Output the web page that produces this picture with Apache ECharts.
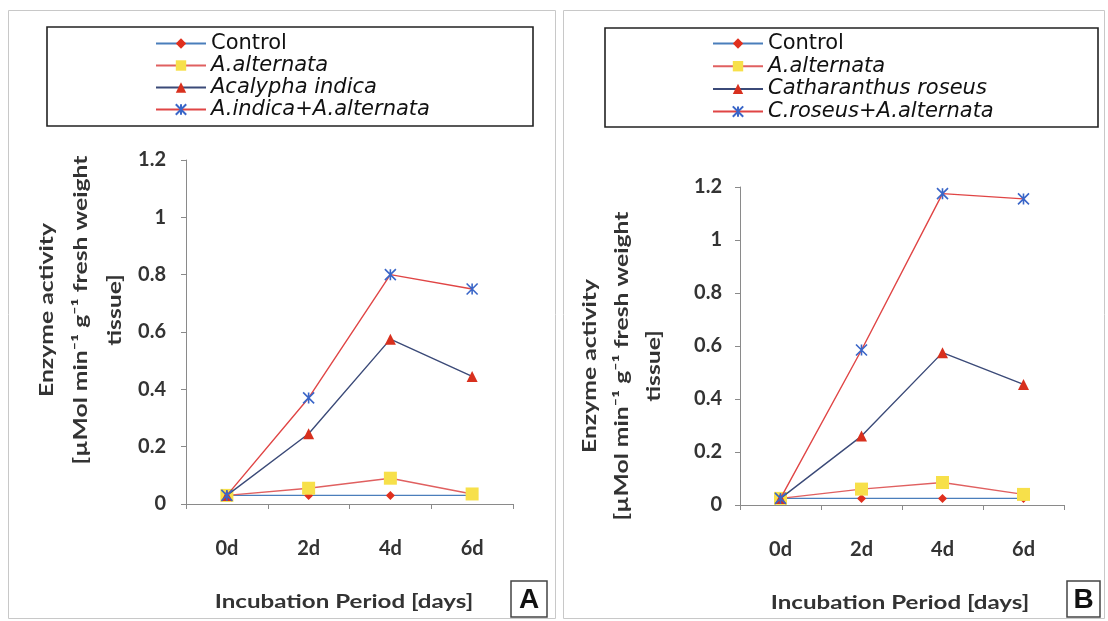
<!DOCTYPE html>
<html>
<head>
<meta charset="utf-8">
<script src="https://cdn.jsdelivr.net/npm/echarts@6/dist/echarts.min.js"></script>
<style>
  html, body { margin: 0; padding: 0; background: #fff; }
  #chart { width: 1108px; height: 621px; }
</style>
</head>
<body>
<div id="chart"></div>
<script>
// Incubation days on the category axis
const categories = ['0d', '2d', '4d', '6d'];

// Y axis range and step (enzyme activity)
const yMin = 0;
const yMax = 1.2;
const yStep = 0.2;

// Panel A: Acalypha indica
const namesA = ['Control', 'A.alternata', 'Acalypha indica', 'A.indica+A.alternata'];
const controlA = [0.03, 0.03, 0.03, 0.03];
const alternataA = [0.03, 0.055, 0.09, 0.035];
const indicaA = [0.03, 0.245, 0.575, 0.445];
const indicaAlternataA = [0.03, 0.37, 0.80, 0.75];

// Panel B: Catharanthus roseus
const namesB = ['Control', 'A.alternata', 'Catharanthus roseus', 'C.roseus+A.alternata'];
const controlB = [0.025, 0.025, 0.025, 0.025];
const alternataB = [0.025, 0.06, 0.085, 0.04];
const roseusB = [0.025, 0.26, 0.575, 0.455];
const roseusAlternataB = [0.025, 0.585, 1.175, 1.155];

const xTitle = 'Incubation Period [days]';
const yTitle = 'Enzyme activity\n[µMol min⁻¹ g⁻¹ fresh weight\ntissue]';

const tickFont = { fontFamily: 'Lato', fontWeight: 'bold', fontSize: 20, color: '#333' };
const asterisk = 'path://M0,0L10,10M10,0L0,10M5,0L5,10';

// Visual style of each of the four treatments (same in both panels)
const styles = [
  { line: '#4a7ebb', symbol: 'diamond', size: 9, fill: '#e0301e' },
  { line: '#e06060', symbol: 'rect', size: 13, fill: '#f7e04a' },
  { line: '#3b4a78', symbol: 'triangle', size: 11, fill: '#d8301e' },
  { line: '#e04545', symbol: asterisk, size: 11, fill: '#3a66c8', stroke: true }
];

function makeSeries(names, dataSets, axisIndex) {
  return dataSets.map((data, i) => {
    const s = styles[i];
    return {
      type: 'line',
      name: names[i],
      data: data,
      xAxisIndex: axisIndex,
      yAxisIndex: axisIndex,
      symbol: s.symbol,
      symbolSize: s.size,
      lineStyle: { color: s.line, width: 1.4 },
      itemStyle: s.stroke
        ? { color: 'rgba(0,0,0,0)', borderColor: s.fill, borderWidth: 1.6 }
        : { color: s.fill, borderWidth: 0 },
      emphasis: { disabled: true },
      z: 2 + i
    };
  });
}

function xAxisFor(gridIndex) {
  return {
    type: 'category',
    gridIndex: gridIndex,
    data: categories,
    boundaryGap: true,
    axisLine: { lineStyle: { color: '#8a8a8a', width: 1 } },
    axisTick: { show: true, length: 5, lineStyle: { color: '#8a8a8a' } },
    axisLabel: Object.assign({ margin: 35 }, tickFont)
  };
}

function yAxisFor(gridIndex, margin) {
  return {
    type: 'value',
    gridIndex: gridIndex,
    min: yMin,
    max: yMax,
    interval: yStep,
    splitLine: { show: false },
    axisLine: { show: true, lineStyle: { color: '#8a8a8a', width: 1 } },
    axisTick: { show: true, length: 5, lineStyle: { color: '#8a8a8a' } },
    axisLabel: Object.assign({
      margin: margin,
      formatter: v => String(+v.toFixed(1))
    }, tickFont)
  };
}

const legendText = {
  fontFamily: 'DejaVu Sans',
  fontSize: 21,
  color: '#111',
  lineHeight: 21,
  rich: {
    i: { fontFamily: 'DejaVu Sans', fontSize: 21, fontStyle: 'italic', color: '#111', lineHeight: 21 }
  }
};
const legendFormatter = name => name === 'Control' ? name : '{i|' + name + '}';

function legendFor(names, left, top, gap) {
  return {
    data: names,
    orient: 'vertical',
    left: left,
    top: top,
    itemWidth: 50,
    itemHeight: 13,
    itemGap: gap,
    padding: 0,
    selectedMode: false,
    textStyle: legendText,
    formatter: legendFormatter
  };
}

// Axis titles are drawn as text, widened along the baseline like the spaced-out original lettering
function titleText(text, x, y, rotated, widen, lineHeight) {
  return {
    type: 'text',
    x: x,
    y: y,
    rotation: rotated ? Math.PI / 2 : 0,
    scaleX: widen,
    style: {
      text: text,
      fontFamily: 'Lato',
      fontWeight: 'bold',
      fontSize: 19,
      lineHeight: lineHeight,
      fill: '#333',
      align: 'center',
      verticalAlign: 'middle'
    }
  };
}

function frame(x, y, w, h, color, lw) {
  return {
    type: 'rect',
    shape: { x: x, y: y, width: w, height: h },
    style: { fill: 'none', stroke: color, lineWidth: lw },
    silent: true
  };
}

function letterBox(x, y, w, h, letter) {
  return [
    frame(x, y, w, h, '#444', 1.5),
    {
      type: 'text',
      x: x + w / 2,
      y: y + h / 2 + 1,
      style: {
        text: letter,
        fontFamily: 'Liberation Sans',
        fontWeight: 'bold',
        fontSize: 28,
        fill: '#111',
        align: 'center',
        verticalAlign: 'middle'
      }
    }
  ];
}

const chart = echarts.init(document.getElementById('chart'), null, { renderer: 'canvas' });

chart.setOption({
  backgroundColor: '#ffffff',
  animation: false,
  grid: [
    { left: 186, top: 160, width: 327, height: 344 },
    { left: 740, top: 187, width: 324, height: 318 }
  ],
  xAxis: [xAxisFor(0), xAxisFor(1)],
  yAxis: [yAxisFor(0, 20), yAxisFor(1, 18)],
  legend: [
    legendFor(namesA, 155, 33, 1),
    legendFor(namesB, 712, 33, 1.7)
  ],
  graphic: [
    frame(8.5, 10.5, 547, 608, '#c8c8c8', 1),
    frame(563.5, 10.5, 541, 608, '#c8c8c8', 1),
    frame(47, 27, 486, 99, '#222', 1.6),
    frame(605, 28, 493, 99, '#222', 1.6),
    titleText(yTitle, 81, 310, true, 1.3, 34),
    titleText(yTitle, 622, 366, true, 1.3, 32),
    titleText(xTitle, 344, 602, false, 1.27, 20),
    titleText(xTitle, 900, 603, false, 1.27, 20),
    ...letterBox(511, 581, 36, 36, 'A'),
    ...letterBox(1067, 581, 33, 36, 'B')
  ],
  series: [
    ...makeSeries(namesA, [controlA, alternataA, indicaA, indicaAlternataA], 0),
    ...makeSeries(namesB, [controlB, alternataB, roseusB, roseusAlternataB], 1)
  ]
});
</script>
</body>
</html>
